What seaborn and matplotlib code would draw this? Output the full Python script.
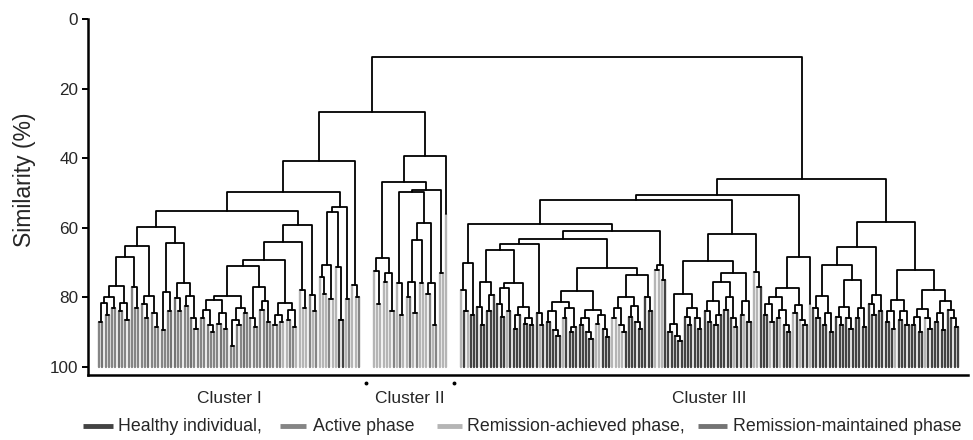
import matplotlib
matplotlib.use("Agg")
import matplotlib.pyplot as plt
import matplotlib.transforms as mtransforms
from matplotlib.lines import Line2D
import seaborn as sns
import pandas as pd

# ---------------- data ----------------
GROUP_CODES = ["H", "A", "R", "M"]
GROUP_LABELS = ["Healthy individual,", "Active phase",
                "Remission-achieved phase,", "Remission-maintained phase"]
GROUP_COLORS = ["#434343", "#858585", "#b5b5b5", "#747474"]

CLUSTER_NAMES = ["Cluster I", "Cluster II", "Cluster III"]
Y_TICKS = [0, 20, 40, 60, 80, 100]
Y_LABEL = "Similarity (%)"

# tree nodes: (similarity, child, child, ...); leaves: group code or (code, bar top)
# ---- Cluster I ----
c1_a = (76.8, (80.0, (81.6, (87.0, "A", "M"), (85.0, "A", "A")), (83.0, "A", "A")),
        (81.7, (84.0, "M", "A"), (86.5, "A", "A")))
c1_b = (77.0, "A", (83.0, "A", "A"))
c1_c = (79.5, (82.0, "A", (86.0, "A", "M")), (84.5, "A", (88.5, "A", "A")))
c1_d = (78.5, (89.5, "A", "A"), (84.0, "A", "M"))
c1_e = (75.8, (80.3, "M", (84.0, "A", "A")),
        (79.5, (82.5, "A", "A"), (86.0, "M", (89.0, "A", "A"))))
c1_f = (79.6, (80.8, (83.7, (86.0, "A", "A"), (88.0, "A", (90.0, "A", "A"))),
               (84.5, (87.5, "A", "M"), (89.0, "A", "A"))),
        (83.0, (86.5, (94.0, "A", "A"), (88.0, "A", "A")), (84.5, "M", "A")))
c1_g = (77.0, (86.0, "A", (88.5, "A", "A")), (81.0, (83.5, "A", "A"), (87.0, "M", "A")))
c1_h = (81.6, (85.0, (88.0, "A", "A"), (87.0, "A", "R")),
        (83.5, (86.5, "R", "A"), (88.5, "A", "R")))
c1_i = (78.0, "R", (83.0, "R", "R"))
c1_j = (79.4, "A", (84.0, "R", "A"))
c1_k = (54.1, (55.6, (70.8, (74.0, "R", (79.0, "R", "R")), (80.5, "A", "R")),
               (71.3, "R", (86.5, "H", "H"))),
        (80.5, "R", "A"))
c1_l = (76.5, "R", (80.0, "R", "A"))

c1_n60 = (59.8, (65.3, (68.3, c1_a, c1_b), c1_c), (64.3, c1_d, c1_e))
c1_n59 = (59.2, (64.0, (69.3, (71.0, c1_f, c1_g), c1_h), c1_i), c1_j)
cluster1 = (40.9, (49.8, (55.3, c1_n60, c1_n59), c1_k), c1_l)

# ---- Cluster II ----
c2_a = (68.7, (72.5, "R", (82.0, "R", "R")), (73.0, (75.7, "R", "R"), (84.0, "R", "A")))
c2_b = (76.0, "R", (85.0, "A", "R"))
c2_c = (58.7, (63.5, (75.5, (80.0, "R", "M"), (84.5, "R", "A")), (76.0, "R", "R")),
        (76.0, (79.0, "R", "A"), (88.0, "R", "A")))
c2_d = (73.0, "R", "R")
c2_e = ("R", 56.0)
cluster2 = (39.4, (46.7, c2_a, (49.2, (49.8, c2_b, c2_c), c2_d)), c2_e)

# ---- Cluster III ----
c3_s1 = (70.0, (78.0, "R", (84.0, "H", "R")), (85.0, "H", "H"))
c3_s2 = (75.6, (82.8, "H", (88.0, "H", "H")), (79.4, (84.0, "H", "H"), "H"))
c3_s3 = (76.0, (77.4, (82.0, "H", (85.5, "H", "H")), (84.0, "R", "H")),
         (82.7, (85.0, (89.0, "H", "H"), "H"), (86.0, (87.5, "H", "H"), (88.0, "H", "H"))))
c3_s4 = (84.6, "H", (88.0, "R", "H"))
c3_s5 = (78.2, (81.3, (84.0, (87.0, "H", "H"), (89.5, "H", (91.0, "H", "H"))),
                (83.0, (86.0, "R", "H"), (88.5, (90.0, "H", "H"), "H"))),
         (83.7, (86.0, (88.0, "H", "H"), (90.0, "H", (92.0, "H", "H"))),
                (85.0, (87.5, "R", "R"), (89.0, "H", (91.5, "H", "H")))))
c3_s6 = (80.0, (83.0, (86.0, "R", "R"), (88.0, "R", (90.0, "R", "H"))),
         (82.5, (85.5, "H", "H"), (87.0, "H", (89.0, "H", "H"))))
c3_s7 = (80.0, "H", (84.0, "H", "H"))
c3_s8 = (70.8, (72.0, "R", "R"), (75.0, "R", "H"))
c3_s9 = (79.0, (87.5, (90.0, "H", "H"), (91.0, "H", (92.5, "H", "H"))),
         (83.0, (85.5, "H", (88.0, "H", "H")), (86.0, "H", (89.0, "H", "H"))))
c3_s10 = (73.0, (75.7, (81.0, (84.0, "H", (87.0, "H", "H")), (85.0, (88.0, "H", "H"), "H")),
                 (80.0, (83.5, "H", "H"), (86.0, "H", (88.5, "R", "H")))),
          (81.0, (85.0, "H", "R"), (87.0, "H", "H")))
c3_s11 = (72.8, "R", (77.0, "R", "H"))
c3_s12 = (68.3, (77.4, (79.9, (82.0, (85.0, "H", "H"), (87.0, "R", "H")),
                        (83.5, (86.0, "H", "R"), (88.0, "H", (90.0, "H", "H")))),
                 (82.3, (84.5, "R", "H"), (86.5, "R", (88.0, "H", "H")))),
          ("R", 82.0))
c3_s13 = (65.5, (70.7, (79.7, (83.0, "H", (86.0, "H", "H")), (84.5, (88.0, "H", "H"), (90.0, "H", "H"))),
                 (74.9, (82.8, (85.5, "H", (88.0, "H", "H")), (86.0, "H", (89.0, "H", "H"))),
                        (83.0, (86.0, "H", "H"), (88.5, "H", "H")))),
          (79.4, (82.0, "H", (85.0, "H", "H")), (84.0, "H", "H")))
c3_s14 = (72.0, (80.8, (84.0, (87.0, "H", "H"), (89.0, "H", "R")), (84.0, (86.5, "H", "H"), (88.0, "H", "H"))),
          (78.0, (83.4, (85.5, (88.0, "H", "H"), (90.0, "H", "H")), (86.0, "R", (89.0, "H", "H"))),
                 (81.0, (84.5, (87.0, "H", "H"), (89.5, "H", "H")), (83.5, "H", (86.0, "H", (88.5, "H", "H"))))))

c3_n61 = (61.0, (63.3, (64.7, (66.4, c3_s2, c3_s3), c3_s4), (71.6, c3_s5, (73.6, c3_s6, c3_s7))), c3_s8)
c3_n52 = (52.0, (59.0, c3_s1, c3_n61), (61.8, (69.6, c3_s9, c3_s10), c3_s11))
cluster3 = (46.0, (50.5, c3_n52, c3_s12), (58.2, c3_s13, c3_s14))

JOIN_I_II = 26.7
ROOT = 10.9

# ---------------- layout ----------------
GAP = 3.5
branch_rows, leaf_rows = [], []
state = {"pos": 0.0, "seg": 0}


def add_seg(rows, pts, extra=None):
    sid = state["seg"]
    state["seg"] += 1
    for k, (x, y) in enumerate(pts):
        r = {"seg": sid, "k": k, "x": x, "y": y}
        if extra:
            r.update(extra)
        rows.append(r)


def build(node, parent_h):
    if isinstance(node, str) or isinstance(node[0], str):
        code, top = (node, None) if isinstance(node, str) else node
        x = state["pos"]
        state["pos"] += 1
        bar_top = parent_h if top is None else top
        add_seg(leaf_rows, [(x, bar_top), (x, 100.0)], {"group": code})
        return x, bar_top
    h, *children = node
    xs, tops = [], []
    for c in children:
        x, t = build(c, h)
        xs.append(x)
        tops.append(t)
    add_seg(branch_rows, [(xs[0], tops[0]), (xs[0], h), (xs[-1], h), (xs[-1], tops[-1])])
    for x, t in zip(xs[1:-1], tops[1:-1]):
        add_seg(branch_rows, [(x, t), (x, h)])
    return (xs[0] + xs[-1]) / 2.0, h


ranges = []
tops = []
for i, cl in enumerate([cluster1, cluster2, cluster3]):
    if i > 0:
        state["pos"] += GAP
    start = state["pos"]
    x, t = build(cl, None)
    ranges.append((start, state["pos"] - 1))
    tops.append((x, t))

(x1, t1), (x2, t2), (x3, t3) = tops
add_seg(branch_rows, [(x1, t1), (x1, JOIN_I_II), (x2, JOIN_I_II), (x2, t2)])
xj = (x1 + x2) / 2.0
add_seg(branch_rows, [(xj, JOIN_I_II), (xj, ROOT), (x3, ROOT), (x3, t3)])

branches = pd.DataFrame(branch_rows)
leaves = pd.DataFrame(leaf_rows)

# ---------------- plot ----------------
sns.set_style("ticks")
plt.rcParams["font.family"] = ["Liberation Sans", "DejaVu Sans"]

W, H = 973, 440
fig = plt.figure(figsize=(W / 100, H / 100), dpi=100)
ax_l, ax_r, ax_t, ax_b = 88, 968, 19, 375
ax = fig.add_axes([ax_l / W, 1 - ax_b / H, (ax_r - ax_l) / W, (ax_b - ax_t) / H])

palette = dict(zip(GROUP_CODES, GROUP_COLORS))
sns.lineplot(data=leaves, x="x", y="y", units="seg", hue="group", palette=palette,
             estimator=None, sort=False, linewidth=1.7, legend=False, ax=ax)
sns.lineplot(data=branches, x="x", y="y", units="seg", color="black",
             estimator=None, sort=False, linewidth=1.3, legend=False, ax=ax)

first_leaf = ranges[0][0]
last_leaf = ranges[-1][1]
pxu = (958 - 99) / (last_leaf - first_leaf)
ax.set_xlim(first_leaf - (99 - ax_l) / pxu, last_leaf + (ax_r - 958) / pxu)
ax.set_ylim(100 + (ax_b - 367) / 3.48, 0)
ax.set_yticks(Y_TICKS)
ax.set_xticks([])
ax.set_xlabel("")
ax.set_ylabel(Y_LABEL, fontsize=16.5)
ax.yaxis.set_label_coords(-(ax_l - 36) / (ax_r - ax_l), (ax_b - 180) / (ax_b - ax_t))
ax.tick_params(axis="y", length=4, width=1.4, labelsize=12.3, pad=3, color="black")
sns.despine(ax=ax)
for s in ["left", "bottom"]:
    ax.spines[s].set_linewidth(1.8)
    ax.spines[s].set_color("black")

trans = mtransforms.blended_transform_factory(ax.transData, ax.transAxes)
for name, (a, b) in zip(CLUSTER_NAMES, ranges):
    ax.text((a + b) / 2.0, -23 / (ax_b - ax_t), name, transform=trans,
            ha="center", va="center", fontsize=12.5)
for (a0, a1), (b0, b1) in zip(ranges[:-1], ranges[1:]):
    ax.plot([(a1 + b0) / 2.0], [-8 / (ax_b - ax_t)], marker="o", ms=1.8,
            color="black", transform=trans, clip_on=False)

# legend (manual row below the axis)
legend_px = [(83, 113, 118), (280, 306, 313), (437, 462, 467), (698, 727, 733)]
ly = 1 - 426 / H
for (m0, m1, tx), lab, col in zip(legend_px, GROUP_LABELS, GROUP_COLORS):
    fig.add_artist(Line2D([m0 / W, m1 / W], [ly, ly], transform=fig.transFigure,
                          color=col, linewidth=3.5, solid_capstyle="butt"))
    fig.text(tx / W, ly, lab, ha="left", va="center", fontsize=12.8)

fig.savefig("out.png", dpi=100)
